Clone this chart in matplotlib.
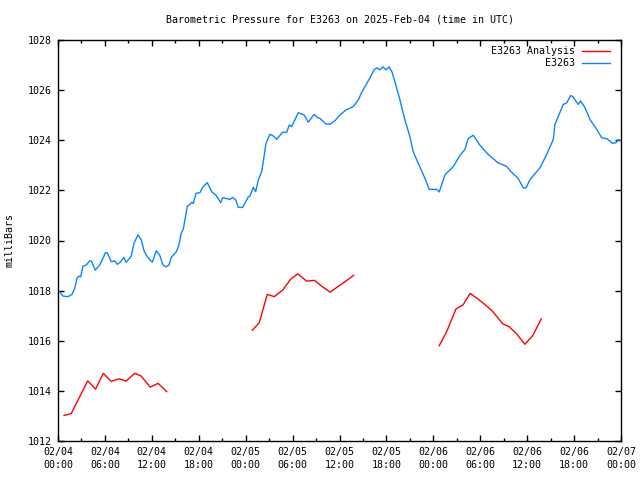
import matplotlib
matplotlib.use("Agg")
import matplotlib.pyplot as plt
from matplotlib.lines import Line2D
from matplotlib.ticker import MultipleLocator

# hours since 2025-02-04 00:00 UTC
obs_t = [0.22, 0.64, 1.28, 1.79, 2.14, 2.43, 2.65, 2.90, 3.20, 3.62, 4.05, 4.26, 4.77, 5.33,
         5.75, 6.05, 6.30, 6.82, 7.25, 7.58, 8.02, 8.40, 8.73, 9.37, 9.72, 10.23, 10.65, 11.00,
         11.42, 12.06, 12.57, 13.00, 13.43, 13.85, 14.19, 14.49, 15.13, 15.43, 15.77, 16.02,
         16.53, 17.10, 17.30, 17.65, 18.16, 18.50, 19.09, 19.65, 20.20, 20.81, 21.06, 21.99,
         22.34, 22.76, 23.06, 23.62, 24.34, 24.55, 24.97, 25.28, 25.61, 26.05, 26.25, 26.60,
         27.11, 27.53, 27.97, 28.73, 29.25, 29.58, 29.88, 30.73, 31.46, 32.01, 32.74, 33.16,
         33.50, 34.27, 34.78, 35.42, 36.06, 36.83, 37.76, 38.40, 38.87, 39.39, 39.90, 40.41,
         40.79, 41.18, 41.56, 41.94, 42.33, 42.71, 43.09, 43.73, 44.37, 45.01, 45.43, 46.07,
         46.93, 47.48, 48.43, 48.76, 49.49, 50.55, 51.41, 52.05, 52.47, 53.11, 53.96, 55.03,
         56.31, 57.38, 57.80, 58.86, 59.50, 59.85, 60.36, 61.64, 62.49, 63.34, 63.55, 64.62,
         65.05, 65.56, 65.82, 66.53, 66.84, 67.39, 68.03, 68.89, 69.53, 70.17, 70.59, 70.88,
         71.36, 71.65, 71.87]
obs_p = [1017.96, 1017.78, 1017.76, 1017.85, 1018.09, 1018.49, 1018.58, 1018.55, 1018.98,
         1019.02, 1019.19, 1019.18, 1018.82, 1019.02, 1019.29, 1019.51, 1019.51, 1019.15,
         1019.19, 1019.05, 1019.15, 1019.33, 1019.13, 1019.38, 1019.89, 1020.23, 1020.02,
         1019.59, 1019.35, 1019.13, 1019.59, 1019.42, 1019.02, 1018.95, 1019.02, 1019.33,
         1019.55, 1019.78, 1020.31, 1020.45, 1021.35, 1021.52, 1021.48, 1021.88, 1021.91,
         1022.12, 1022.31, 1021.95, 1021.81, 1021.51, 1021.71, 1021.64, 1021.72, 1021.61,
         1021.32, 1021.32, 1021.74, 1021.78, 1022.12, 1021.95, 1022.41, 1022.75, 1023.14,
         1023.88, 1024.24, 1024.17, 1024.04, 1024.32, 1024.32, 1024.61, 1024.54, 1025.10,
         1025.01, 1024.72, 1025.03, 1024.91, 1024.87, 1024.65, 1024.64, 1024.78, 1025.01,
         1025.21, 1025.34, 1025.61, 1025.93, 1026.21, 1026.49, 1026.81, 1026.89, 1026.81,
         1026.93, 1026.81, 1026.93, 1026.73, 1026.33, 1025.61, 1024.80, 1024.14, 1023.54,
         1023.08, 1022.48, 1022.04, 1022.04, 1021.94, 1022.62, 1022.95, 1023.40, 1023.64,
         1024.07, 1024.20, 1023.80, 1023.43, 1023.09, 1022.96, 1022.79, 1022.47, 1022.10,
         1022.10, 1022.43, 1022.90, 1023.43, 1024.03, 1024.63, 1025.43, 1025.49, 1025.78,
         1025.75, 1025.43, 1025.57, 1025.30, 1024.83, 1024.44, 1024.10, 1024.06, 1023.97,
         1023.88, 1023.90, 1024.03, 1023.99]

an1_t = [0.77, 1.3, 1.7, 3.8, 4.8, 5.8, 6.8, 7.8, 8.7, 9.8, 10.6, 11.8, 12.8, 13.9]
an1_p = [1013.02, 1013.06, 1013.10, 1014.40, 1014.07, 1014.70, 1014.38, 1014.48, 1014.39,
         1014.70, 1014.60, 1014.15, 1014.30, 1013.97]
an2_t = [24.85, 25.74, 26.76, 27.66, 28.73, 29.76, 30.65, 31.8, 32.8, 33.8, 34.8, 35.8, 36.9, 37.8]
an2_p = [1016.42, 1016.72, 1017.85, 1017.76, 1018.02, 1018.46, 1018.67, 1018.38, 1018.41,
         1018.16, 1017.94, 1018.16, 1018.40, 1018.61]
an3_t = [48.75, 49.7, 50.9, 51.8, 52.7, 53.6, 54.5, 55.5, 56.9, 57.7, 58.7, 59.7, 60.7, 61.8]
an3_p = [1015.80, 1016.36, 1017.27, 1017.43, 1017.89, 1017.69, 1017.47, 1017.2, 1016.67,
         1016.56, 1016.26, 1015.86, 1016.20, 1016.87]

xtick_hours = list(range(0, 73, 6))
xtick_labels = ["02/04\n00:00", "02/04\n06:00", "02/04\n12:00", "02/04\n18:00",
                "02/05\n00:00", "02/05\n06:00", "02/05\n12:00", "02/05\n18:00",
                "02/06\n00:00", "02/06\n06:00", "02/06\n12:00", "02/06\n18:00",
                "02/07\n00:00"]
yticks = list(range(1012, 1029, 2))

title = "Barometric Pressure for E3263 on 2025-Feb-04 (time in UTC)"
ylabel = "milliBars"
legend_labels = ["E3263 Analysis", "E3263"]

RED = "#ff0000"
BLUE = "#0a84ff"
FONT = "DejaVu Sans Mono"
FS = 7.2

fig = plt.figure(figsize=(6.4, 4.8), dpi=100)
ax = fig.add_axes([58/640, 1-441/480, (621-58)/640, 401/480])

for t, p in [(an1_t, an1_p), (an2_t, an2_p), (an3_t, an3_p)]:
    ax.plot(t, p, color=RED, lw=1.0)
ax.plot(obs_t, obs_p, color=BLUE, lw=1.0)

ax.set_xlim(0, 72)
ax.set_ylim(1012, 1028)
ax.set_xticks(xtick_hours)
ax.set_xticklabels(xtick_labels, family=FONT, fontsize=FS, linespacing=1.35)
ax.xaxis.set_minor_locator(MultipleLocator(3))
ax.set_yticks(yticks)
ax.set_yticklabels([str(v) for v in yticks], family=FONT, fontsize=FS)
ax.tick_params(which='major', direction='in', length=4.5, width=1, top=True, right=True, pad=4.5)
ax.tick_params(which='minor', direction='in', length=2.5, width=1, top=True, right=False)
for s in ax.spines.values():
    s.set_linewidth(1.0)

fig.text(339.5/640, 1-20/480, title, ha='center', va='center', family=FONT, fontsize=FS)
fig.text(10/640, 0.5, ylabel, rotation=90, ha='center', va='center', family=FONT, fontsize=FS)

# legend (top-right, text right aligned, sample to the right)
for i, (lab, col) in enumerate(zip(legend_labels, [RED, BLUE])):
    yy = (441 - (51 + 12 * i)) / 401
    ax.text((575 - 58) / 563, yy, lab, transform=ax.transAxes, ha='right', va='center',
            family=FONT, fontsize=FS)
    ax.add_line(Line2D([(582 - 58) / 563, (610 - 58) / 563], [yy, yy], transform=ax.transAxes,
                       color=col, lw=1.0))

fig.savefig("out.png", dpi=100)
